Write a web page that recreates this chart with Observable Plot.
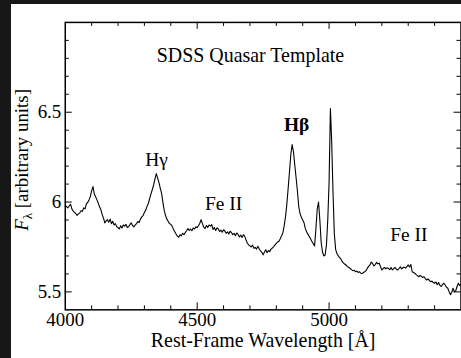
<!DOCTYPE html>
<html><head><meta charset="utf-8">
<script src="https://cdn.jsdelivr.net/npm/d3@7"></script>
<script src="https://cdn.jsdelivr.net/npm/@observablehq/plot@0.6"></script>
<style>
html,body{margin:0;padding:0;background:#171717;width:461px;height:358px;overflow:hidden;}
#panel{position:absolute;left:11px;top:4px;width:450px;height:354px;background:#fff;overflow:hidden;}
#panel svg, #panel svg text{font-family:"Liberation Serif","Times New Roman",serif !important;}
</style></head><body><div id="panel"></div>
<script>
// Spectrum sampled every 5 Å from 4000 to 5500 Å
const wavelength = d3.range(4000, 5501, 5);
const flux = [
5.982,5.975,5.968,5.978,5.988,5.962,5.950,5.943,5.935,5.926,5.934,5.940,5.952,5.948,5.968,5.962,5.990,5.998,6.012,6.030,
6.062,6.086,6.045,6.030,6.012,5.995,5.972,5.958,5.930,5.910,5.884,5.895,5.902,5.888,5.905,5.880,5.893,5.872,5.880,5.862,
5.858,5.850,5.868,5.856,5.872,5.866,5.876,5.858,5.862,5.874,5.884,5.870,5.862,5.872,5.880,5.892,5.886,5.905,5.918,5.925,
5.942,5.955,5.976,5.992,6.020,6.045,6.070,6.095,6.128,6.158,6.135,6.110,6.078,6.050,6.000,5.955,5.925,5.905,5.893,5.880,
5.876,5.866,5.848,5.835,5.822,5.810,5.804,5.818,5.812,5.826,5.818,5.830,5.840,5.852,5.842,5.850,5.840,5.856,5.850,5.862,
5.858,5.868,5.882,5.902,5.880,5.860,5.852,5.870,5.858,5.872,5.866,5.875,5.848,5.858,5.842,5.856,5.850,5.836,5.844,5.832,
5.846,5.838,5.826,5.834,5.822,5.838,5.830,5.818,5.826,5.812,5.828,5.820,5.806,5.816,5.802,5.818,5.810,5.790,5.772,5.762,
5.756,5.750,5.760,5.742,5.748,5.738,5.754,5.740,5.728,5.720,5.706,5.722,5.734,5.718,5.730,5.724,5.738,5.744,5.752,5.762,
5.770,5.778,5.782,5.796,5.812,5.830,5.870,5.920,5.990,6.080,6.170,6.265,6.320,6.280,6.205,6.135,6.060,5.975,5.935,5.915,
5.900,5.885,5.852,5.835,5.820,5.808,5.795,5.780,5.768,5.756,5.850,5.960,6.000,5.900,5.775,5.722,5.700,5.705,5.760,5.900,
6.110,6.520,6.330,6.050,5.820,5.735,5.712,5.700,5.690,5.682,5.668,5.660,5.654,5.648,5.640,5.636,5.630,5.624,5.618,5.620,
5.612,5.616,5.608,5.612,5.604,5.602,5.608,5.612,5.618,5.632,5.642,5.650,5.666,5.658,5.644,5.652,5.664,5.656,5.660,5.640,
5.622,5.630,5.636,5.628,5.634,5.630,5.624,5.636,5.622,5.630,5.636,5.626,5.622,5.630,5.640,5.628,5.634,5.638,5.632,5.640,
5.650,5.638,5.652,5.612,5.608,5.604,5.596,5.590,5.584,5.592,5.586,5.580,5.584,5.574,5.566,5.572,5.564,5.556,5.560,5.552,
5.548,5.555,5.540,5.552,5.536,5.530,5.540,5.548,5.538,5.526,5.520,5.500,5.484,5.498,5.520,5.500,5.506,5.530,5.548,5.536,
5.540
];
const xTickLabels = [4000, 4500, 5000];
const xMajorTicks = [4500, 5000];
const xMinorTicks = [4100, 4200, 4300, 4400, 4600, 4700, 4800, 4900, 5100, 5200, 5300, 5400];
const yTickLabels = [5.5, 6, 6.5];
const yMajorTicks = [5.5, 6, 6.5];
const yMinorTicks = [5.6, 5.7, 5.8, 5.9, 6.1, 6.2, 6.3, 6.4, 6.6, 6.7, 6.8, 6.9];
const lineNames = ["Hγ", "Fe II", "Hβ", "Fe II"];
const lineWavelengths = [4346, 4600, 4877, 5302];
const lineLabelFlux = [6.233, 5.991, 6.429, 5.816];
const lineBold = [false, false, true, false];
const titleText = "SDSS Quasar Template";
const xLabelText = "Rest-Frame Wavelength [Å]";

const spectrum = wavelength.map((w, i) => ({w, f: flux[i]}));
const labels = lineNames.map((t, i) => ({t, w: lineWavelengths[i], f: lineLabelFlux[i], bold: lineBold[i]}));

const W = 452, H = 354, mL = 54, mR = 0.5, mT = 18, mB = 47.3;
const iW = W - mL - mR, iH = H - mT - mB;
const serif = "Liberation Serif, Times New Roman, serif";

const chart = Plot.plot({
  width: W, height: H,
  marginLeft: mL, marginRight: mR, marginTop: mT, marginBottom: mB,
  x: {domain: [4000, 5500]},
  y: {domain: [5.4, 7.0]},
  style: "font-family: 'Liberation Serif', serif; font-size: 19px; background: white; color: black; overflow: visible;",
  marks: [
    Plot.line(spectrum, {x: "w", y: "f", stroke: "black", strokeWidth: 1.1}),
    Plot.tickX(xMinorTicks, {x: d => d, insetTop: iH - 4, stroke: "black"}),
    Plot.tickX(xMajorTicks, {x: d => d, insetTop: iH - 7, stroke: "black"}),
    Plot.tickX(xMinorTicks, {x: d => d, insetBottom: iH - 4, stroke: "black"}),
    Plot.tickX(xMajorTicks, {x: d => d, insetBottom: iH - 7, stroke: "black"}),
    Plot.tickY(yMinorTicks, {y: d => d, insetRight: iW - 4, stroke: "black"}),
    Plot.tickY(yMajorTicks, {y: d => d, insetRight: iW - 7, stroke: "black"}),
    Plot.tickY(yMinorTicks, {y: d => d, insetLeft: iW - 4, stroke: "black"}),
    Plot.tickY(yMajorTicks, {y: d => d, insetLeft: iW - 7, stroke: "black"}),
    Plot.axisX(xTickLabels, {anchor: "bottom", tickSize: 0, tickPadding: 3, label: null, fontSize: 19, fontFamily: serif, tickFormat: d => String(d)}),
    Plot.axisY(yTickLabels, {anchor: "left", tickSize: 0, tickPadding: 4, label: null, fontSize: 19, fontFamily: serif, tickFormat: d => String(d)}),
    Plot.frame({stroke: "black", strokeWidth: 1.5}),
    Plot.text(labels.filter(d => !d.bold), {x: "w", y: "f", text: "t", fontSize: 19.5, fontFamily: serif, fill: "black"}),
    Plot.text(labels.filter(d => d.bold), {x: "w", y: "f", text: "t", fontSize: 19.5, fontFamily: serif, fontWeight: "bold", fill: "black"}),
    Plot.text([titleText], {x: 4702, y: 6.815, text: d => d, fontSize: 20, fontFamily: serif, fill: "black"}),
    Plot.text([xLabelText], {frameAnchor: "bottom", dy: 37.5, text: d => d, fontSize: 20, fontFamily: serif, fill: "black"})
  ]
});

const svg = d3.select(chart);
const yScale = chart.scale("y");
const yl = svg.append("text")
  .attr("transform", `translate(17,${yScale.apply(6.232)}) rotate(-90)`)
  .attr("text-anchor", "middle")
  .attr("font-family", serif)
  .attr("font-size", 19)
  .attr("fill", "black");
yl.append("tspan").attr("font-style", "italic").text("F");
yl.append("tspan").attr("font-size", 13).attr("dy", 4).text("λ");
yl.append("tspan").attr("dy", -4).text(" [arbitrary units]");

document.getElementById("panel").appendChild(chart);
</script></body></html>
